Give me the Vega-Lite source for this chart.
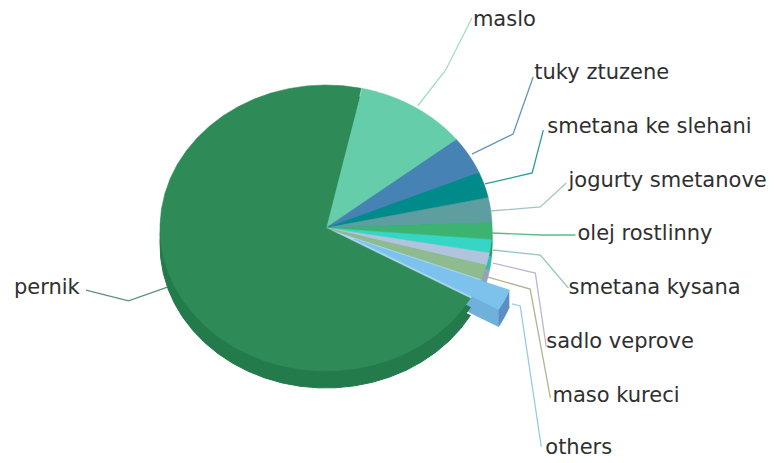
{
  "$schema": "https://vega.github.io/schema/vega-lite/v6.json",
  "width": 775,
  "height": 463,
  "padding": 0,
  "autosize": {"type": "none"},
  "background": "white",
  "view": {"stroke": null},
  "datasets": {
    "shares": [
      {"rank": 1, "name": "maslo", "value": 10.9},
      {"rank": 2, "name": "tuky ztuzene", "value": 4.3},
      {"rank": 3, "name": "smetana ke slehani", "value": 2.9},
      {"rank": 4, "name": "jogurty smetanove", "value": 2.8},
      {"rank": 5, "name": "olej rostlinny", "value": 1.9},
      {"rank": 6, "name": "smetana kysana", "value": 1.5},
      {"rank": 7, "name": "sadlo veprove", "value": 1.4},
      {"rank": 8, "name": "maso kureci", "value": 1.6},
      {"rank": 9, "name": "others", "value": 2.4},
      {"rank": 10, "name": "pernik", "value": 70.2}
    ],
    "labels": [
      {"name": "maslo", "lx": 0.885, "ly": 1.413},
      {"name": "tuky ztuzene", "lx": 1.255, "ly": 1.042},
      {"name": "smetana ke slehani", "lx": 1.333, "ly": 0.664},
      {"name": "jogurty smetanove", "lx": 1.461, "ly": 0.287},
      {"name": "olej rostlinny", "lx": 1.515, "ly": -0.084},
      {"name": "smetana kysana", "lx": 1.461, "ly": -0.462},
      {"name": "sadlo veprove", "lx": 1.327, "ly": -0.839},
      {"name": "maso kureci", "lx": 1.364, "ly": -1.217},
      {"name": "others", "lx": 1.321, "ly": -1.58},
      {"name": "pernik", "lx": -1.88, "ly": -0.462}
    ],
    "leaders": [
      {"name": "maslo", "k": 0, "lx": 0.552, "ly": 0.853},
      {"name": "maslo", "k": 1, "lx": 0.721, "ly": 1.105},
      {"name": "maslo", "k": 2, "lx": 0.879, "ly": 1.469},
      {"name": "tuky ztuzene", "k": 0, "lx": 0.879, "ly": 0.517},
      {"name": "tuky ztuzene", "k": 1, "lx": 1.127, "ly": 0.657},
      {"name": "tuky ztuzene", "k": 2, "lx": 1.248, "ly": 1.056},
      {"name": "smetana ke slehani", "k": 0, "lx": 0.958, "ly": 0.308},
      {"name": "smetana ke slehani", "k": 1, "lx": 1.242, "ly": 0.385},
      {"name": "smetana ke slehani", "k": 2, "lx": 1.309, "ly": 0.685},
      {"name": "jogurty smetanove", "k": 0, "lx": 0.994, "ly": 0.119},
      {"name": "jogurty smetanove", "k": 1, "lx": 1.291, "ly": 0.147},
      {"name": "jogurty smetanove", "k": 2, "lx": 1.448, "ly": 0.315},
      {"name": "olej rostlinny", "k": 0, "lx": 1.0, "ly": -0.035},
      {"name": "olej rostlinny", "k": 1, "lx": 1.291, "ly": -0.049},
      {"name": "olej rostlinny", "k": 2, "lx": 1.503, "ly": -0.049},
      {"name": "smetana kysana", "k": 0, "lx": 1.006, "ly": -0.154},
      {"name": "smetana kysana", "k": 1, "lx": 1.291, "ly": -0.189},
      {"name": "smetana kysana", "k": 2, "lx": 1.461, "ly": -0.42},
      {"name": "sadlo veprove", "k": 0, "lx": 1.006, "ly": -0.245},
      {"name": "sadlo veprove", "k": 1, "lx": 1.261, "ly": -0.315},
      {"name": "sadlo veprove", "k": 2, "lx": 1.327, "ly": -0.832},
      {"name": "maso kureci", "k": 0, "lx": 0.976, "ly": -0.343},
      {"name": "maso kureci", "k": 1, "lx": 1.23, "ly": -0.427},
      {"name": "maso kureci", "k": 2, "lx": 1.352, "ly": -1.189},
      {"name": "others", "k": 0, "lx": 1.121, "ly": -0.531},
      {"name": "others", "k": 1, "lx": 1.17, "ly": -0.545},
      {"name": "others", "k": 2, "lx": 1.297, "ly": -1.531},
      {"name": "pernik", "k": 0, "lx": -0.955, "ly": -0.413},
      {"name": "pernik", "k": 1, "lx": -1.19, "ly": -0.51},
      {"name": "pernik", "k": 2, "lx": -1.446, "ly": -0.434}
    ]
  },
  "data": {"name": "shares"},
  "transform": [
    {"window": [{"op": "sum", "field": "value", "as": "cum"}], "sort": [{"field": "rank"}]},
    {"calculate": "0.22 + (datum.cum - datum.value) / 100 * 2 * PI", "as": "a0"},
    {"calculate": "0.22 + datum.cum / 100 * 2 * PI", "as": "a1"},
    {"calculate": "sequence(-1, 42)", "as": "step"},
    {"flatten": ["step"]},
    {"calculate": "datum.step >= 0 && datum.step <= 40", "as": "onArc"},
    {"calculate": "datum.a0 + (datum.a1 - datum.a0) * datum.step / 40", "as": "a"},
    {"calculate": "datum.onArc ? sin(datum.a) : 0", "as": "ux"},
    {"calculate": "datum.onArc ? cos(datum.a) : 0", "as": "uy"},
    {"calculate": "datum.name === 'others' ? datum.ux + 0.17 : datum.ux", "as": "px"},
    {"calculate": "datum.name === 'others' ? datum.uy - 0.077 : datum.uy", "as": "py"},
    {"calculate": "datum.py - 0.119", "as": "py2"}
  ],
  "resolve": {"scale": {"fill": "independent", "stroke": "independent"}},
  "encoding": {
    "x": {"field": "px", "type": "quantitative", "axis": null, "scale": {"domain": [-1.96386, 2.70482], "nice": false, "zero": false}},
    "y": {"field": "py", "type": "quantitative", "axis": null, "scale": {"domain": [-1.6434, 1.5944], "nice": false, "zero": false}}
  },
  "layer": [
    {
      "transform": [{"filter": "datum.name === 'others'"}],
      "mark": {"type": "line", "fill": "#6fb1da", "stroke": "#6fb1da", "strokeWidth": 1, "yOffset": 17, "interpolate": "linear"},
      "encoding": {"order": {"field": "step", "type": "quantitative"}}
    },
    {
      "transform": [{"filter": "datum.name === 'others' && datum.onArc"}],
      "mark": {"type": "area", "color": "#5b8fc4", "interpolate": "linear"},
      "encoding": {"y2": {"field": "py2"}}
    },
    {
      "transform": [{"filter": "datum.name !== 'others'"}],
      "mark": {"type": "line", "strokeWidth": 1, "yOffset": 9, "interpolate": "linear"},
      "encoding": {
        "order": {"field": "step", "type": "quantitative"},
        "detail": {"field": "name"},
        "fill": {"field": "name", "type": "nominal", "legend": null, "scale": {"domain": ["maslo", "tuky ztuzene", "smetana ke slehani", "jogurty smetanove", "olej rostlinny", "smetana kysana", "sadlo veprove", "maso kureci", "pernik"], "range": ["#55b090", "#3a6d98", "#007474", "#4f8486", "#32965e", "#35bbae", "#93a4ba", "#789d78", "#237a4a"]}},
        "stroke": {"field": "name", "type": "nominal", "legend": null, "scale": {"domain": ["maslo", "tuky ztuzene", "smetana ke slehani", "jogurty smetanove", "olej rostlinny", "smetana kysana", "sadlo veprove", "maso kureci", "pernik"], "range": ["#55b090", "#3a6d98", "#007474", "#4f8486", "#32965e", "#35bbae", "#93a4ba", "#789d78", "#237a4a"]}}
      }
    },
    {
      "transform": [{"filter": "datum.name !== 'others'"}],
      "mark": {"type": "line", "strokeWidth": 1, "yOffset": 17, "interpolate": "linear"},
      "encoding": {
        "order": {"field": "step", "type": "quantitative"},
        "detail": {"field": "name"},
        "fill": {"field": "name", "type": "nominal", "legend": null, "scale": {"domain": ["maslo", "tuky ztuzene", "smetana ke slehani", "jogurty smetanove", "olej rostlinny", "smetana kysana", "sadlo veprove", "maso kureci", "pernik"], "range": ["#55b090", "#3a6d98", "#007474", "#4f8486", "#32965e", "#35bbae", "#93a4ba", "#789d78", "#237a4a"]}},
        "stroke": {"field": "name", "type": "nominal", "legend": null, "scale": {"domain": ["maslo", "tuky ztuzene", "smetana ke slehani", "jogurty smetanove", "olej rostlinny", "smetana kysana", "sadlo veprove", "maso kureci", "pernik"], "range": ["#55b090", "#3a6d98", "#007474", "#4f8486", "#32965e", "#35bbae", "#93a4ba", "#789d78", "#237a4a"]}}
      }
    },
    {
      "transform": [{"filter": "datum.name === 'others'"}],
      "mark": {"type": "line", "fill": "#a9d6ee", "stroke": "#a9d6ee", "strokeWidth": 0.6, "interpolate": "linear"},
      "encoding": {
        "x": {"field": "ux", "type": "quantitative"},
        "y": {"field": "uy", "type": "quantitative"},
        "order": {"field": "step", "type": "quantitative"}
      }
    },
    {
      "transform": [{"filter": "datum.name !== 'others'"}],
      "mark": {"type": "line", "strokeWidth": 0.6, "interpolate": "linear"},
      "encoding": {
        "order": {"field": "step", "type": "quantitative"},
        "detail": {"field": "name"},
        "fill": {"field": "name", "type": "nominal", "legend": null, "scale": {"domain": ["maslo", "tuky ztuzene", "smetana ke slehani", "jogurty smetanove", "olej rostlinny", "smetana kysana", "sadlo veprove", "maso kureci", "pernik"], "range": ["#66cdaa", "#4682b4", "#008b8b", "#5f9ea0", "#3cb371", "#35d6c6", "#b0c4de", "#8fbc8f", "#2e8b57"]}},
        "stroke": {"field": "name", "type": "nominal", "legend": null, "scale": {"domain": ["maslo", "tuky ztuzene", "smetana ke slehani", "jogurty smetanove", "olej rostlinny", "smetana kysana", "sadlo veprove", "maso kureci", "pernik"], "range": ["#66cdaa", "#4682b4", "#008b8b", "#5f9ea0", "#3cb371", "#35d6c6", "#b0c4de", "#8fbc8f", "#2e8b57"]}}
      }
    },
    {
      "transform": [{"filter": "datum.name === 'others'"}],
      "mark": {"type": "line", "fill": "#7cc2ec", "stroke": "#7cc2ec", "strokeWidth": 0.6, "interpolate": "linear"},
      "encoding": {"order": {"field": "step", "type": "quantitative"}}
    },
    {
      "data": {"name": "leaders"},
      "transform": [],
      "mark": {"type": "line", "strokeWidth": 1.3, "interpolate": "linear", "opacity": 0.85},
      "encoding": {
        "x": {"field": "lx", "type": "quantitative"},
        "y": {"field": "ly", "type": "quantitative"},
        "order": {"field": "k", "type": "quantitative"},
        "detail": {"field": "name"},
        "stroke": {"field": "name", "type": "nominal", "legend": null, "scale": {"domain": ["maslo", "tuky ztuzene", "smetana ke slehani", "jogurty smetanove", "olej rostlinny", "smetana kysana", "sadlo veprove", "maso kureci", "others", "pernik"], "range": ["#8fd6bd", "#4682b4", "#008b8b", "#93b8b9", "#3cb371", "#7fb8b4", "#b0a8c8", "#a3a77f", "#87bfe0", "#3f7f5c"]}}
      }
    },
    {
      "data": {"name": "labels"},
      "transform": [],
      "mark": {"type": "text", "font": "DejaVu Sans", "fontSize": 21, "align": "left", "baseline": "alphabetic", "color": "#2f2f2f"},
      "encoding": {
        "x": {"field": "lx", "type": "quantitative"},
        "y": {"field": "ly", "type": "quantitative"},
        "text": {"field": "name"}
      }
    }
  ]
}
